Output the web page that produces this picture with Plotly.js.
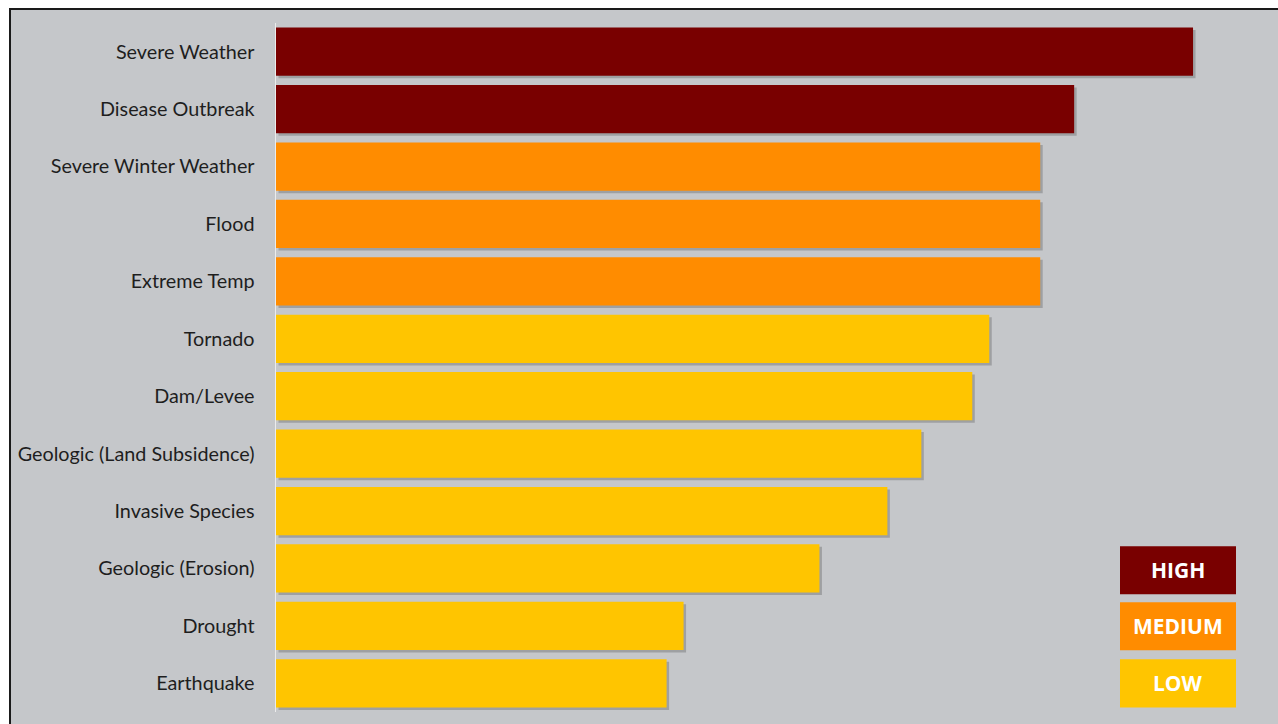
<!DOCTYPE html>
<html>
<head>
<meta charset="utf-8">
<script src="https://cdn.plot.ly/plotly-3.0.1.min.js"></script>
<style>
  html, body { margin:0; padding:0; background:#ffffff; }
  #wrap { position:absolute; left:0; top:0; width:1278px; height:724px; background:#ffffff; overflow:hidden; }
  #frame { position:absolute; left:9px; top:8px; width:1269px; height:716px; border-top:2px solid #1a1a1a; border-left:2px solid #1a1a1a; box-sizing:border-box; }
  #chart { position:absolute; left:11px; top:10px; width:1267px; height:714px; }
</style>
</head>
<body>
<div id="wrap">
  <div id="frame"></div>
  <div id="chart"></div>
</div>
<script>
const categories = ["Severe Weather","Disease Outbreak","Severe Winter Weather","Flood","Extreme Temp","Tornado","Dam/Levee","Geologic (Land Subsidence)","Invasive Species","Geologic (Erosion)","Drought","Earthquake"];
const scores = [54, 47, 45, 45, 45, 42, 41, 38, 36, 32, 24, 23];
const levels = ["HIGH","HIGH","MEDIUM","MEDIUM","MEDIUM","LOW","LOW","LOW","LOW","LOW","LOW","LOW"];
const legendLabels = ["HIGH","MEDIUM","LOW"];
const levelColors = {HIGH:"#790000", MEDIUM:"#ff8c00", LOW:"#ffc500"};

const XMAX = 56;
const plotW = 951, plotH = 688.3;
const dx = 2.5 * XMAX / plotW;       // shadow offset in data units (x)
const dy = 2.5 * 12 / plotH;         // shadow offset in category units (y)

const shadow = {
  type:'bar', orientation:'h', x:scores, y:categories,
  xaxis:'x', yaxis:'y', width:0.84,
  marker:{color:'rgba(70,70,70,0.30)', line:{width:0}},
  hoverinfo:'skip', showlegend:false
};
const bars = {
  type:'bar', orientation:'h', x:scores, y:categories,
  xaxis:'x2', yaxis:'y2', width:0.84,
  marker:{color:levels.map(l => levelColors[l]), line:{width:0}},
  showlegend:false
};

const shapes = [];
const annotations = [];
const boxTops = [546, 602, 659];
legendLabels.forEach((lab, i) => {
  const top = boxTops[i] - 10, bottom = top + 48;
  shapes.push({type:'rect', xref:'paper', yref:'paper', layer:'above',
    x0:(1120-11-265)/plotW, x1:(1236-11-265)/plotW,
    y0:1 - (bottom - 13.3)/plotH, y1:1 - (top - 13.3)/plotH,
    fillcolor:levelColors[lab], line:{width:0}});
  annotations.push({xref:'paper', yref:'paper',
    x:(1178-11-265)/plotW, y:1 - (top + 24 - 13.3)/plotH,
    text:'<b>'+lab+'</b>', showarrow:false, xanchor:'center', yanchor:'middle',
    font:{family:'"Open Sans", "Noto Sans", sans-serif', size:21, color:'#ffffff'}});
});

const layout = {
  width:1267, height:714,
  margin:{l:265, r:51, t:13.3, b:12.4, pad:0},
  paper_bgcolor:'#c5c7ca', plot_bgcolor:'#c5c7ca',
  bargap:0.16,
  xaxis:{range:[-dx, XMAX - dx], visible:false, fixedrange:true},
  yaxis:{type:'category', categoryarray:categories, range:[11.5 - dy, -0.5 - dy],
         showticklabels:false, showline:false, showgrid:false, zeroline:false, ticks:''},
  xaxis2:{range:[0, XMAX], overlaying:'x', visible:false},
  yaxis2:{type:'category', categoryarray:categories, range:[11.5, -0.5], overlaying:'y', side:'left',
          showline:true, linecolor:'#ececec', linewidth:1.5, showgrid:false, zeroline:false,
          ticks:'outside', ticklen:16, tickcolor:'rgba(0,0,0,0)',
          tickfont:{family:'Lato, "Open Sans", sans-serif', size:19.8, color:'#1e1e1e'}},
  shapes:shapes, annotations:annotations
};

Plotly.newPlot('chart', [shadow, bars], layout, {displayModeBar:false, staticPlot:true});
</script>
</body>
</html>
